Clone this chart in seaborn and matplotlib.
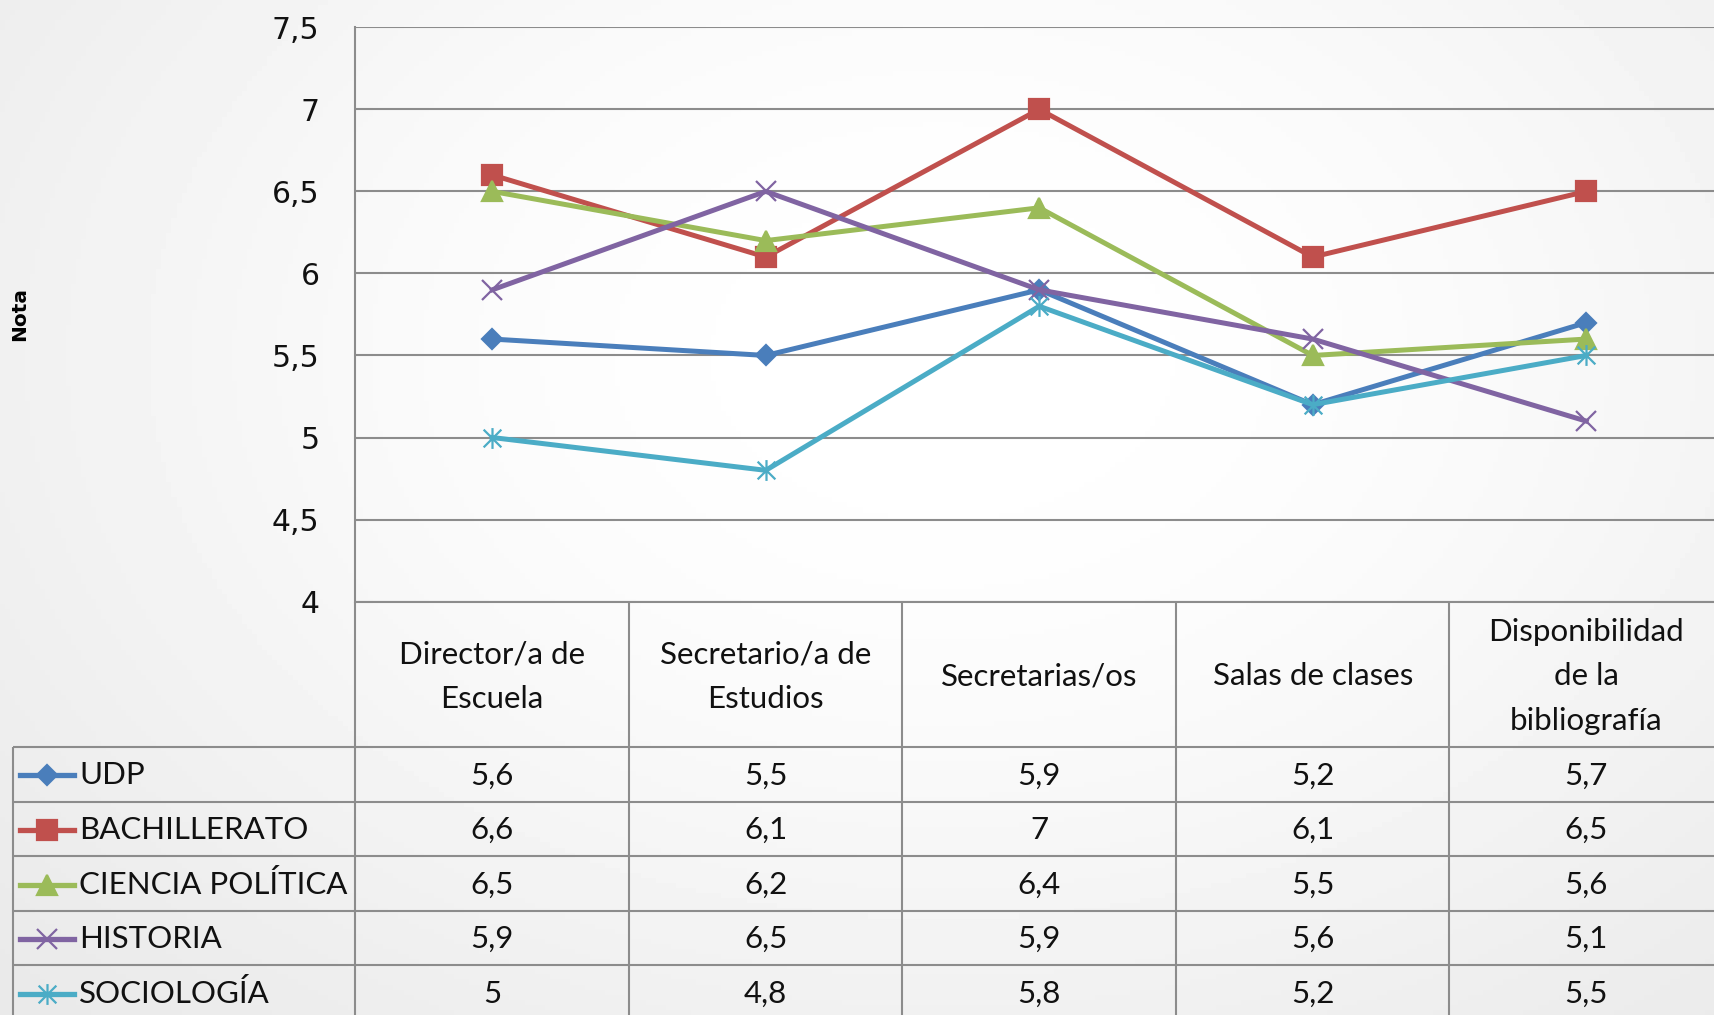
import numpy as np
import pandas as pd
import matplotlib
matplotlib.use("Agg")
import matplotlib.pyplot as plt
import seaborn as sns
from matplotlib.path import Path

# categories on the x axis (also the table header)
categories = [
    "Director/a de\nEscuela",
    "Secretario/a de\nEstudios",
    "Secretarias/os",
    "Salas de clases",
    "Disponibilidad\nde la\nbibliografía",
]
series = ["UDP", "BACHILLERATO", "CIENCIA POLÍTICA", "HISTORIA", "SOCIOLOGÍA"]

udp = [5.6, 5.5, 5.9, 5.2, 5.7]
bachillerato = [6.6, 6.1, 7.0, 6.1, 6.5]
ciencia_politica = [6.5, 6.2, 6.4, 5.5, 5.6]
historia = [5.9, 6.5, 5.9, 5.6, 5.1]
sociologia = [5.0, 4.8, 5.8, 5.2, 5.5]

y_ticks = [4, 4.5, 5, 5.5, 6, 6.5, 7, 7.5]

colors = {
    "UDP": "#4a7ebb",
    "BACHILLERATO": "#c0504d",
    "CIENCIA POLÍTICA": "#9bbb59",
    "HISTORIA": "#8064a2",
    "SOCIOLOGÍA": "#4bacc6",
}

# asterisk marker like the Excel one: vertical bar + an x
asterisk = Path(
    [(0, -1), (0, 1), (-0.85, -0.85), (0.85, 0.85), (-0.85, 0.85), (0.85, -0.85)],
    [Path.MOVETO, Path.LINETO] * 3,
)
markers = {
    "UDP": ("D", 10),
    "BACHILLERATO": ("s", 14),
    "CIENCIA POLÍTICA": ("^", 14),
    "HISTORIA": ("x", 14),
    "SOCIOLOGÍA": (asterisk, 15),
}

df = pd.DataFrame({
    "pos": list(range(len(categories))) * len(series),
    "nota": udp + bachillerato + ciencia_politica + historia + sociologia,
    "serie": [s for s in series for _ in categories],
})

W, H = 1715, 1015
fig = plt.figure(figsize=(W / 100, H / 100), dpi=100)

# soft gray background, white in the middle
bg = fig.add_axes([0, 0, 1, 1], zorder=-10)
yy, xx = np.mgrid[0:1:200j, 0:1:340j]
r = np.sqrt(((xx - 0.55) / 0.75) ** 2 + ((yy - 0.35) / 0.9) ** 2)
shade = 1.0 - 0.1 * np.tanh(1.2 * r ** 2)
bg.imshow(shade, cmap="gray", vmin=0, vmax=1, aspect="auto", extent=[0, 1, 1, 0])
bg.axis("off")

font_tab = ["Lato", "DejaVu Sans"]
tab_size = 22.5

ax = fig.add_axes([355.5 / W, 1 - 601.6 / H, (1723 - 355.5) / W, (601.6 - 27.3) / H])
ax.patch.set_alpha(0)

line_color = "#8c8c8c"
for name in series:
    sub = df[df["serie"] == name]
    mk, ms = markers[name]
    sns.lineplot(
        data=sub, x="pos", y="nota", ax=ax, color=colors[name],
        linewidth=3.6, marker=mk, markersize=ms,
        markeredgecolor=colors[name], markerfacecolor=colors[name],
        markeredgewidth=1.6, legend=False, zorder=3,
    )

ax.set_xlim(-0.5, len(categories) - 0.5)
ax.set_ylim(4, 7.5)
ax.set_xticks([])
ax.set_yticks(y_ticks)
ax.set_yticklabels([f"{t:g}".replace(".", ",") for t in y_ticks])
ax.tick_params(axis="y", length=0, pad=26, labelsize=21.5, labelcolor="#111111")
ax.set_xlabel("")
ax.set_ylabel("")
ax.yaxis.grid(True, color=line_color, linewidth=1.5)
ax.set_axisbelow(True)
for side in ["top", "right", "bottom"]:
    ax.spines[side].set_visible(False)
ax.spines["left"].set_color(line_color)
ax.spines["left"].set_linewidth(1.5)

fig.text(20 / W, 1 - 314 / H, "Nota", rotation=90, fontsize=14.5,
         fontweight="bold", ha="center", va="center")

# data table under the chart, drawn in figure pixels
tax = fig.add_axes([0, 0, 1, 1], zorder=5)
tax.set_xlim(0, W)
tax.set_ylim(H, 0)
tax.axis("off")
tax.patch.set_alpha(0)

col_edges = [ax.transData.transform((i - 0.5, 4))[0] for i in range(len(categories) + 1)]
col_mid = [ax.transData.transform((i, 4))[0] for i in range(len(categories))]
head_top = H - ax.transData.transform((0, 4))[1]
head_bot = 747
row_h = 54.6
row_edges = [head_bot + k * row_h for k in range(len(series) + 1)]
tab_left = 13

tkw = dict(color=line_color, linewidth=1.5, solid_capstyle="butt")
tax.plot([col_edges[0], W + 20], [head_top, head_top], **tkw)
for yv in row_edges:
    tax.plot([tab_left, W + 20], [yv, yv], **tkw)
for xv in col_edges:
    tax.plot([xv, xv], [head_top, H + 20], **tkw)
tax.plot([tab_left, tab_left], [head_bot, H + 20], **tkw)

for cat, xc in zip(categories, col_mid):
    tax.text(xc, (head_top + head_bot) / 2 + 2, cat, ha="center", va="center",
             multialignment="center", linespacing=1.72, fontsize=tab_size,
             family=font_tab, color="#111111")

values = [udp, bachillerato, ciencia_politica, historia, sociologia]
for k, (name, vals) in enumerate(zip(series, values)):
    yc = row_edges[k] + row_h / 2 + 1
    mk, ms = markers[name]
    tax.plot([20, 47, 74], [yc] * 3, color=colors[name], linewidth=3.8,
             marker=mk, markersize=ms, markevery=[1], markeredgecolor=colors[name],
             markerfacecolor=colors[name], markeredgewidth=1.6)
    tax.text(79, yc, name, ha="left", va="center", fontsize=tab_size,
             family=font_tab, color="#111111")
    for v, xc in zip(vals, col_mid):
        tax.text(xc, yc, f"{v:g}".replace(".", ","), ha="center", va="center",
                 fontsize=tab_size, family=font_tab, color="#111111")

fig.savefig("out.png", dpi=100)
